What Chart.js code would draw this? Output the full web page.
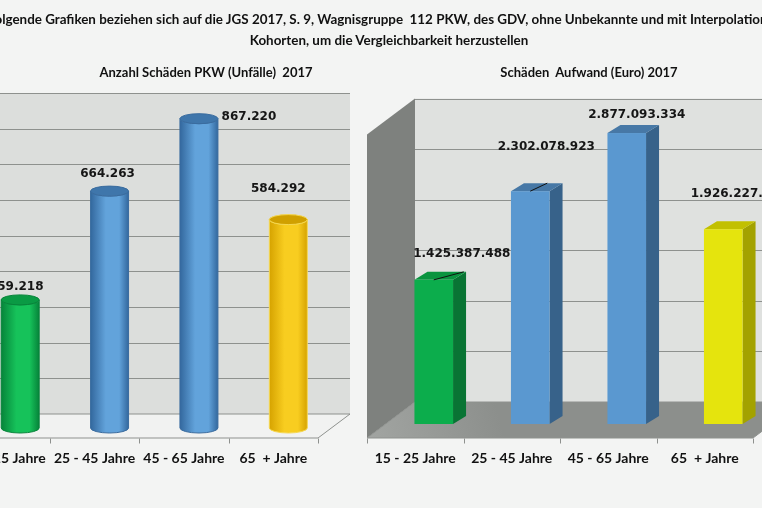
<!DOCTYPE html>
<html lang="de">
<head>
<meta charset="utf-8">
<title>Schäden PKW 2017</title>
<script src="https://cdn.jsdelivr.net/npm/chart.js@4.4.1/dist/chart.umd.min.js"></script>
<style>
  html, body { margin: 0; padding: 0; }
  body {
    width: 762px; height: 508px; overflow: hidden; position: relative;
    background: #f3f4f3; color: #111;
    font-family: Lato, "Open Sans", sans-serif; font-weight: bold;
  }
  canvas { position: absolute; top: 0; }
  .head { position: absolute; white-space: nowrap; transform: translateX(-50%); font-size: 13px; line-height: 16px; }
  .big { font-size: 13.4px; }
</style>
</head>
<body>
<canvas id="unfaelle" width="450" height="508" style="left:-80px"></canvas>
<canvas id="aufwand" width="460" height="508" style="left:340px"></canvas>

<div class="head big" style="left:389px; top:11px">Folgende Grafiken beziehen sich auf die JGS 2017, S. 9, Wagnisgruppe&nbsp; 112 PKW, des GDV, ohne Unbekannte und mit Interpolation der</div>
<div class="head big" style="left:389px; top:32px">Kohorten, um die Vergleichbarkeit herzustellen</div>
<div class="head" style="left:206px; top:64px">Anzahl Schäden PKW (Unfälle)&nbsp; 2017</div>
<div class="head" style="left:589px; top:64px">Schäden&nbsp; Aufwand (Euro) 2017</div>

<script>
// data
const categories = ['15 - 25 Jahre', '25 - 45 Jahre', '45 - 65 Jahre', '65  + Jahre'];
const unfaelle = [359218, 664263, 867220, 584292];
const aufwand = [1425387488, 2302078923, 2877093334, 1926227000];
const unfaelleMax = 900000, unfaelleStep = 100000;
const aufwandMax = 3000000000, aufwandStep = 500000000;

// label offsets from the bar top (x, y), and the short leader lines
const unfaelleLabelOffsets = [[-4, -13], [-2, -17], [50, -2], [-10, -31]];
const aufwandLabelOffsets = [[28, -26], [16, -44], [10, -18], [16, -35]];
const aufwandLeaders = [[0, 0, 30, -8], [0, 0, 17, -8], null, null];

const cylColors = [
  { dark: '#06843a', light: '#16c25a', cap: '#0a9a44', edge: '#07853a' },
  { dark: '#33689e', light: '#62a3db', cap: '#3f76ab', edge: '#3a6c9f' },
  { dark: '#33689e', light: '#62a3db', cap: '#3f76ab', edge: '#3a6c9f' },
  { dark: '#d6a300', light: '#f8cd20', cap: '#d0a000', edge: '#f6d850' }
];
const boxColors = [
  { front: '#0cad4c', side: '#097434', top: '#0a943f' },
  { front: '#5a98d0', side: '#37628a', top: '#4778a6' },
  { front: '#5a98d0', side: '#37628a', top: '#4778a6' },
  { front: '#e5e40d', side: '#a3a200', top: '#c2c000' }
];

const fmt = v => String(v).replace(/\B(?=(\d{3})+(?!\d))/g, '.');

// walls, floor, grid and category axis in a simple oblique projection
const scene3d = {
  id: 'scene3d',
  beforeDatasetsDraw(chart, args, o) {
    const ctx = chart.ctx;
    const xs = chart.scales.x, ys = chart.scales.y;
    const L = chart.chartArea.left, R = chart.chartArea.right;
    const T = ys.getPixelForValue(ys.max), B = ys.getPixelForValue(0);
    const f = o.front, b = o.back;
    ctx.save();

    // back wall
    ctx.fillStyle = o.wall;
    ctx.fillRect(L + b.dx, T + b.dy, R - L, B - T);

    // side wall
    ctx.beginPath();
    ctx.moveTo(L + f.dx, T + f.dy);
    ctx.lineTo(L + b.dx, T + b.dy);
    ctx.lineTo(L + b.dx, B + b.dy);
    ctx.lineTo(L + f.dx, B + f.dy);
    ctx.closePath();
    ctx.fillStyle = o.side;
    ctx.fill();

    // grid on the back wall
    ctx.strokeStyle = o.grid;
    ctx.lineWidth = 1;
    ys.ticks.forEach(t => {
      const py = Math.round(ys.getPixelForValue(t.value)) + 0.5;
      ctx.beginPath();
      if (o.sideGrid) ctx.moveTo(L + f.dx, py + f.dy - b.dy);
      else ctx.moveTo(L + b.dx, py + b.dy);
      ctx.lineTo(L + b.dx, py + b.dy);
      ctx.lineTo(R + b.dx, py + b.dy);
      ctx.stroke();
    });

    // floor
    ctx.beginPath();
    ctx.moveTo(L + f.dx, B + f.dy);
    ctx.lineTo(R + f.dx, B + f.dy);
    ctx.lineTo(R + b.dx, B + b.dy);
    ctx.lineTo(L + b.dx, B + b.dy);
    ctx.closePath();
    if (o.floorGradient) {
      const g = ctx.createLinearGradient(L + f.dx, B + f.dy, L + b.dx + 80, B + b.dy);
      g.addColorStop(0, o.floorGradient[0]);
      g.addColorStop(1, o.floorGradient[1]);
      ctx.fillStyle = g;
    } else {
      ctx.fillStyle = o.floor;
    }
    ctx.fill();
    ctx.strokeStyle = o.axis;
    ctx.stroke();

    // category axis: ticks and labels on the front edge
    const fy = Math.round(B + f.dy) + 0.5;
    ctx.beginPath();
    for (let i = 0; i <= categories.length; i++) {
      const px = Math.round(xs.getPixelForValue(i - 0.5) + f.dx) + 0.5;
      ctx.moveTo(px, fy);
      ctx.lineTo(px, fy + 5);
    }
    ctx.stroke();

    ctx.fillStyle = '#111';
    ctx.font = 'bold 14px Lato, sans-serif';
    ctx.textAlign = 'center';
    ctx.textBaseline = 'middle';
    chart.data.labels.forEach((lab, i) => {
      ctx.fillText(lab, xs.getPixelForValue(i) + f.dx, B + f.dy + 20);
    });
    ctx.restore();
  }
};

function drawCylinder(ctx, x, y, base, w, c, ry) {
  const rx = w / 2;
  const g = ctx.createLinearGradient(x - rx, 0, x + rx, 0);
  g.addColorStop(0, c.dark);
  g.addColorStop(0.4, c.light);
  g.addColorStop(0.75, c.light);
  g.addColorStop(1, c.dark);
  ctx.beginPath();
  ctx.moveTo(x - rx, y);
  ctx.lineTo(x - rx, base);
  ctx.ellipse(x, base, rx, ry, 0, Math.PI, 0, true);
  ctx.lineTo(x + rx, y);
  ctx.ellipse(x, y, rx, ry, 0, 0, Math.PI, false);
  ctx.closePath();
  ctx.fillStyle = g;
  ctx.fill();
  ctx.strokeStyle = c.edge;
  ctx.lineWidth = 1;
  ctx.stroke();
  ctx.beginPath();
  ctx.ellipse(x, y, rx, ry, 0, 0, Math.PI * 2);
  ctx.fillStyle = c.cap;
  ctx.fill();
  ctx.stroke();
}

function drawBox(ctx, x, y, base, w, c, d) {
  const l = x - w / 2, r = x + w / 2;
  ctx.fillStyle = c.side;
  ctx.beginPath();
  ctx.moveTo(r, y);
  ctx.lineTo(r + d.dx, y - d.dy);
  ctx.lineTo(r + d.dx, base - d.dy);
  ctx.lineTo(r, base);
  ctx.closePath();
  ctx.fill();
  ctx.fillStyle = c.top;
  ctx.beginPath();
  ctx.moveTo(l, y);
  ctx.lineTo(l + d.dx, y - d.dy);
  ctx.lineTo(r + d.dx, y - d.dy);
  ctx.lineTo(r, y);
  ctx.closePath();
  ctx.fill();
  ctx.fillStyle = c.front;
  ctx.fillRect(l, y, w, base - y);
}

const bars3d = {
  id: 'bars3d',
  afterDatasetsDraw(chart, args, o) {
    const ctx = chart.ctx;
    const meta = chart.getDatasetMeta(0);
    const values = chart.data.datasets[0].data;
    ctx.save();
    meta.data.forEach((el, i) => {
      const p = el.getProps(['x', 'y', 'base', 'width'], true);
      if (o.shape === 'cylinder') drawCylinder(ctx, p.x, p.y, p.base, p.width, o.colors[i], o.ry);
      else drawBox(ctx, p.x, p.y, p.base, p.width, o.colors[i], o.depth);
      const ld = o.leaders && o.leaders[i];
      if (ld) {
        ctx.strokeStyle = '#111';
        ctx.lineWidth = 1;
        ctx.beginPath();
        ctx.moveTo(p.x + ld[0], p.y + ld[1]);
        ctx.lineTo(p.x + ld[2], p.y + ld[3]);
        ctx.stroke();
      }
    });
    ctx.fillStyle = '#151515';
    ctx.font = 'bold 12px "DejaVu Sans", sans-serif';
    ctx.textAlign = 'center';
    ctx.textBaseline = 'middle';
    meta.data.forEach((el, i) => {
      const p = el.getProps(['x', 'y'], true);
      ctx.fillText(fmt(values[i]), p.x + o.offsets[i][0], p.y + o.offsets[i][1]);
    });
    ctx.restore();
  }
};

function makeChart(id, values, max, step, pad, barPct, scene, bars) {
  return new Chart(document.getElementById(id), {
    type: 'bar',
    data: {
      labels: categories,
      datasets: [{
        data: values,
        backgroundColor: 'rgba(0,0,0,0)',
        borderWidth: 0,
        barPercentage: barPct,
        categoryPercentage: 1
      }]
    },
    options: {
      responsive: false,
      animation: false,
      layout: { padding: pad },
      scales: {
        x: { display: false },
        y: { display: false, min: 0, max: max, ticks: { stepSize: step } }
      },
      plugins: {
        legend: { display: false },
        tooltip: { enabled: false },
        scene3d: scene,
        bars3d: bars
      }
    },
    plugins: [scene3d, bars3d]
  });
}

makeChart('unfaelle', unfaelle, unfaelleMax, unfaelleStep,
  { left: 55.5, right: 37, top: 107, bottom: 80 }, 0.425,
  { front: { dx: -15, dy: 10 }, back: { dx: 17, dy: -14 }, wall: '#dcdedc', side: '#cfd1cf',
    floor: '#f1f2f1', grid: '#8e918e', axis: '#8e918e', sideGrid: true },
  { shape: 'cylinder', colors: cylColors, ry: 5, offsets: unfaelleLabelOffsets });

makeChart('aufwand', aufwand, aufwandMax, aufwandStep,
  { left: 45.5, right: 28.5, top: 120.6, bottom: 84 }, 0.4,
  { front: { dx: -18.5, dy: 14 }, back: { dx: 29.5, dy: -22 }, wall: '#dfe1df', side: '#7e817e',
    floorGradient: ['#a2a5a2', '#8c8f8c'], grid: '#8e918e', axis: '#8e918e', sideGrid: false },
  { shape: 'box', colors: boxColors, depth: { dx: 13, dy: 8 }, offsets: aufwandLabelOffsets,
    leaders: aufwandLeaders });
</script>
</body>
</html>
